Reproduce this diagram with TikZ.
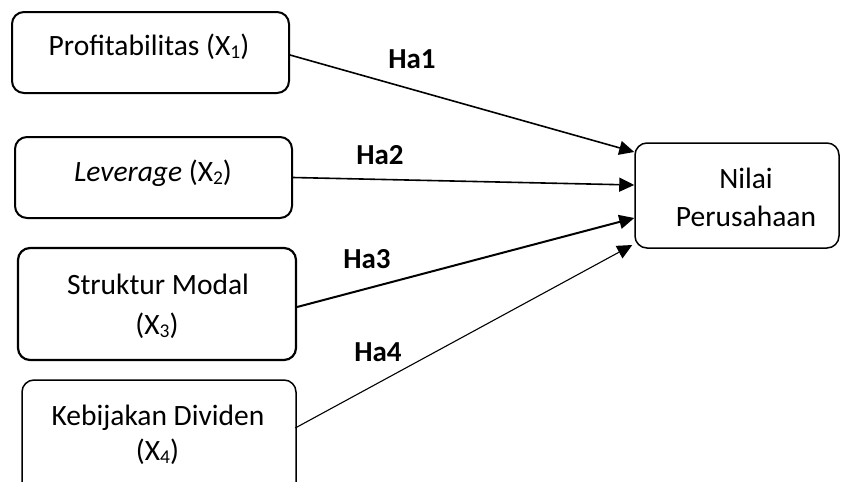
\documentclass[tikz,border=0pt]{standalone}
\usepackage{fontspec}
\setmainfont{Carlito}
\usetikzlibrary{arrows.meta,calc}
\newcommand{\mysub}[1]{\raisebox{-3.5pt}{\fontsize{19.5}{20}\selectfont #1}}
\begin{document}
\begin{tikzpicture}[x=1pt,y=-1pt,
  box/.style={draw,rounded corners=12pt,line width=2pt,inner sep=0pt},
  thinbox/.style={box,line width=1.5pt},
  txt/.style={anchor=base,inner sep=0pt,font=\fontsize{29.5}{34}\selectfont},
  lab/.style={txt,font=\fontsize{29}{34}\selectfont\bfseries},
  arr/.style={-{Triangle[length=15pt,width=14pt]},line width=1.6pt}]
\useasboundingbox (0,0) rectangle (841,482);
% boxes
\node[box,minimum width=277pt,minimum height=81pt] (b1) at (150.5,52.5) {};
\node[box,minimum width=277pt,minimum height=81pt] (b2) at (153.5,177.5) {};
\node[box,line width=2.2pt,minimum width=278pt,minimum height=112pt] (b3) at (157,304) {};
\begin{scope}
\clip (0,0) rectangle (841,482);
\node[thinbox,minimum width=274pt,minimum height=124pt] (b4) at (159,442) {};
\end{scope}
\node[thinbox,minimum width=204pt,minimum height=105pt] (n) at (737,195.5) {};
% texts
\node[txt] (t1) at (149,55) {Profitabilitas (X\mysub{1})};
\node[txt] (t2) at (153,181) {\textit{Leverage} (X\mysub{2})};
\node[txt] (t3a) at (158,294) {Struktur Modal};
\node[txt] (t3b) at (157,334) {(X\mysub{3})};
\node[txt] (t4a) at (158,425) {Kebijakan Dividen};
\node[txt] (t4b) at (157.5,460) {(X\mysub{4})};
\node[txt] (tna) at (746,188) {Nilai};
\node[txt] (tnb) at (746,226) {Perusahaan};
% labels
\node[lab] (h1) at (412,68) {Ha1};
\node[lab] (h2) at (380,164) {Ha2};
\node[lab] (h3) at (367,268) {Ha3};
\node[lab] (h4) at (378,361) {Ha4};
% arrows
\draw[arr] ($(b1.east)+(0,2.5)$) -- ($(n.west)+(0,-43.5)$);
\draw[arr] (b2.east) -- ($(n.west)+(0,-10.5)$);
\draw[arr,line width=2pt] ($(b3.east)+(0,3)$) -- ($(n.west)+(0,22.5)$);
\draw[arr,line width=1.1pt] ($(b4.west)!0!(b4.east)+(274,-14)$) -- ($(n.west)+(-2,49.5)$);
\end{tikzpicture}
\end{document}
